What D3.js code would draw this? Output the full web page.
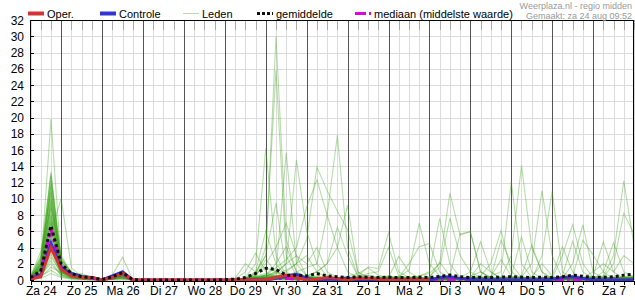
<!DOCTYPE html>
<html lang="nl">
<head>
<meta charset="utf-8">
<title>Neerslag pluim</title>
<style>
  body { margin: 0; background: #fff; }
  svg { font-family: "Liberation Sans", Arial, sans-serif; }
  .grid line { stroke: #dcdcdc; shape-rendering: crispEdges; }
  .axis path, .axis line { stroke: #000; shape-rendering: crispEdges; }
  .axis text { font-size: 12px; fill: #000; }
</style>
</head>
<body>
<svg id="chart" width="635" height="300"></svg>
<script src="https://d3js.org/d3.v7.min.js"></script>
<script>
"use strict";

// x: 6-hourly steps from za 24 06:00 (index 0) to za 7 24:00 (index 59)
var dayLabels = ["Za 24", "Zo 25", "Ma 26", "Di 27", "Wo 28", "Do 29", "Vr 30", "Za 31",
                 "Zo 1", "Ma 2", "Di 3", "Wo 4", "Do 5", "Vr 6", "Za 7"];
var yTicks = [0, 2, 4, 6, 8, 10, 12, 14, 16, 18, 20, 22, 24, 26, 28, 30, 32];

var oper = [0.1, 0.4, 4.0, 1.3, 0.5, 0.3, 0.3, 0, 0.3, 0.8, 0,
  0, 0, 0, 0, 0, 0, 0, 0, 0,
  0, 0, 0, 0, 0.3, 0.6, 0.3, 0, 0.1, 0.3,
  0.2, 0, 0.2, 0.2, 0.1, 0, 0, 0, 0, 0];

var controle = [0.2, 0.6, 4.5, 1.5, 0.8, 0.4, 0.3, 0, 0.5, 1.0, 0,
  0, 0, 0, 0, 0, 0, 0, 0, 0,
  0, 0, 0, 0, 0.2, 0.5, 0.7, 0.2, 0, 0.1,
  0.1, 0.2, 0, 0, 0, 0, 0, 0, 0, 0,
  0.3, 0.4, 0.2, 0.1, 0, 0, 0, 0, 0, 0,
  0, 0.1, 0.3, 0.4, 0.2, 0, 0, 0, 0, 0];

var gemiddelde = [0.3, 1.1, 6.7, 2.0, 0.8, 0.4, 0.3, 0.05, 0.4, 0.9, 0.05,
  0, 0, 0, 0, 0, 0, 0, 0, 0.05,
  0.1, 0.3, 0.8, 1.45, 1.3, 0.6, 0.6, 0.5, 0.8, 0.5,
  0.4, 0.3, 0.4, 0.35, 0.3, 0.35, 0.3, 0.3, 0.35, 0.3,
  0.45, 0.6, 0.4, 0.3, 0.35, 0.3, 0.35, 0.4, 0.35, 0.3,
  0.35, 0.3, 0.4, 0.6, 0.45, 0.3, 0.35, 0.4, 0.6, 0.7];

var mediaan = [0.2, 0.9, 6.2, 1.6, 0.6, 0.3, 0.2, 0, 0.3, 0.7, 0,
  0, 0, 0, 0, 0, 0, 0, 0, 0,
  0, 0, 0, 0.1, 0.2, 0.2, 0.1, 0, 0, 0.1,
  0.1, 0, 0, 0, 0, 0, 0, 0, 0, 0,
  0, 0, 0, 0, 0, 0, 0, 0, 0, 0,
  0, 0, 0, 0, 0, 0, 0, 0, 0, 0];

var leden = [
  [0.3, 1.5, 19.8, 2.0, 0.6, 0.3, 0.2, 0, 0.3, 0.9, 0, 0, 0, 0, 0, 0, 0, 0, 0, 0,
   0, 0.2, 1, 3, 30, 5, 1, 0.3, 0.2, 0, 0, 0.1, 0.3, 0.2, 0, 0, 0.1, 0, 0, 0.2,
   0.3, 0.2, 0, 0, 0.1, 0, 0.2, 3, 14.1, 4, 1, 0.2, 0, 0.1, 0, 0, 0.2, 0.3, 0.1, 0.2],
  [0.2, 2.5, 13.3, 1.8, 0.8, 0.4, 0.2, 0, 0.4, 1.0, 0, 0, 0, 0, 0, 0, 0, 0, 0, 0,
   0, 0.3, 2, 16.2, 3, 0.5, 0.2, 0, 0.3, 0.1, 0, 0, 0.2, 0.4, 0.1, 0, 0, 0.3, 0, 0,
   0.1, 0.4, 0.2, 0, 0, 0.3, 0, 0, 0.5, 4.3, 1, 0, 0.1, 0.3, 0.2, 0, 0, 0.1, 0.4, 0.3],
  [0.4, 3.0, 13.0, 2.5, 1.0, 0.5, 0.3, 0, 0.5, 1.2, 0, 0, 0, 0, 0, 0, 0, 0, 0, 0,
   0, 0.1, 0.5, 4, 25.8, 3, 0.5, 0.2, 0, 0.2, 0.3, 0.1, 0, 0, 0.2, 0.4, 0.1, 0, 0, 0.1,
   0, 0.2, 0.3, 0.1, 0, 0, 0.2, 0.1, 0.4, 2, 11, 3, 0.2, 0, 0, 0.3, 0.1, 0, 0.2, 0.5],
  [0.2, 1.8, 12.2, 3.0, 0.9, 0.6, 0.2, 0, 0.3, 0.7, 0, 0, 0, 0, 0, 0, 0, 0, 0, 0,
   0, 0, 0.2, 0.5, 1, 15.7, 2, 0.5, 0.2, 0, 0, 0.2, 0.5, 0.3, 0, 0, 0.2, 0.1, 0, 0,
   0.2, 0.1, 0, 0.3, 0.2, 0, 0, 0.3, 0.1, 0, 3, 10.9, 1, 0.2, 0, 0.1, 0, 0.3, 0.2, 0.1],
  [0.3, 2.2, 11.5, 1.5, 0.5, 0.3, 0.1, 0, 0.4, 0.8, 0, 0, 0, 0, 0, 0, 0, 0, 0, 0,
   0, 0.1, 0.3, 0.5, 0.8, 2, 14.8, 6, 2, 0.5, 0.2, 0, 0, 0.1, 0.3, 0.2, 0, 0, 0.2, 0.1,
   0, 0, 0.2, 0.4, 0.1, 0, 0.3, 0.2, 0, 0.1, 0.2, 0.5, 4.1, 1, 0.2, 0, 0.1, 0.2, 0, 0.3],
  [0.5, 2.8, 11.0, 2.2, 0.7, 0.8, 0.3, 0, 0.6, 2.8, 0, 0, 0, 0, 0, 0, 0, 0, 0, 0,
   0, 0, 0.1, 0.3, 0.5, 1, 2, 5, 13.9, 11, 8.5, 6.2, 1, 0.2, 0, 0.1, 0.3, 0, 0, 0.2,
   0.1, 0, 0, 0.2, 0.3, 0.1, 0, 0, 0.2, 0.3, 0, 0.2, 3, 6.8, 2, 0.3, 0, 0.1, 0.3, 0.2],
  [0.2, 1.2, 10.4, 1.6, 0.6, 0.4, 0.2, 0, 0.2, 0.6, 0, 0, 0, 0, 0, 0, 0, 0, 0, 0,
   0, 0.2, 0.4, 0.6, 1.5, 2.5, 4, 9, 12.3, 8, 4, 1, 0.3, 0.1, 0, 0.2, 0, 0.1, 0.3, 0,
   0, 0.2, 0.1, 0, 0, 0.2, 0.4, 0.1, 0, 0, 0.1, 0, 0.2, 2, 6.8, 1, 0.2, 0, 0.1, 0.2],
  [0.3, 2.0, 9.8, 1.2, 0.5, 0.3, 0.2, 0, 0.3, 0.9, 0, 0, 0, 0, 0, 0, 0, 0, 0, 0,
   0, 0, 0.2, 0.4, 0.3, 0.5, 1, 1.5, 2, 8, 17.8, 4, 0.5, 0.2, 0.1, 0, 0, 0.2, 0.1, 0,
   0.3, 0.2, 0, 0, 0.1, 0.3, 0, 0.2, 0.1, 0, 0, 0.2, 0.1, 0.4, 4.9, 3.1, 1, 0.2, 0, 0.1],
  [0.1, 1.0, 9.2, 2.8, 0.8, 0.5, 0.3, 0, 0.5, 1.1, 0, 0, 0, 0, 0, 0, 0, 0, 0, 0,
   0, 0.1, 0.2, 0.2, 0.4, 0.6, 0.3, 0.5, 1, 2, 4, 9.2, 1, 0.3, 0.2, 0, 0.1, 0, 0.2, 0.3,
   0.1, 0, 0.2, 0.1, 0, 0, 0.2, 0.3, 0, 0.1, 0.2, 0, 0.1, 0, 0.3, 0.5, 4.7, 1, 0.2, 0.3],
  [0.4, 1.6, 8.7, 1.4, 0.4, 0.2, 0.1, 0, 0.2, 0.5, 0, 0, 0, 0, 0, 0, 0, 0, 0, 0,
   0, 0.2, 0.8, 3, 9.5, 1, 0.3, 0.2, 0, 0.1, 0.2, 0.4, 0.1, 0, 0.3, 0.5, 0.2, 0, 0, 0.1,
   0.2, 0.3, 0, 0, 0.2, 0.1, 0, 0, 0.3, 0.2, 0, 0.1, 0.3, 0.2, 0, 0.2, 1, 4.6, 1, 0.4],
  [0.2, 2.4, 8.2, 1.9, 0.7, 0.5, 0.2, 0, 0.4, 0.7, 0, 0, 0, 0, 0, 0, 0, 0, 0, 0,
   0.1, 1, 3.3, 1, 0.3, 0.2, 0, 0.1, 0.3, 0.2, 0, 0.1, 0.2, 0.6, 0.3, 0.1, 0, 0.2, 0.3, 0,
   0, 0.1, 0.3, 0.2, 0, 0, 0.1, 0.2, 0.4, 0.1, 0, 0.2, 0.1, 0, 0.2, 0.3, 0.5, 3, 12.2, 4.3],
  [0.3, 1.3, 7.8, 1.1, 0.5, 0.3, 0.2, 0, 0.3, 0.8, 0, 0, 0, 0, 0, 0, 0, 0, 0, 0,
   0, 0.1, 0.3, 0.6, 2, 4.1, 1, 0.3, 0.1, 0, 0.1, 0.3, 0.2, 0, 0.1, 0.3, 0.2, 0.1, 0, 0.2,
   0.3, 0, 0.1, 0.2, 0.3, 0, 0, 0.1, 0.2, 0.3, 0.1, 0, 0.2, 0.3, 0.1, 0, 0.3, 2, 8.2, 5.7],
  [0.2, 0.9, 7.3, 1.3, 0.4, 0.2, 0.1, 0, 0.2, 0.6, 0, 0, 0, 0, 0, 0, 0, 0, 0, 0,
   0.2, 2, 1, 6, 2, 0.5, 0.2, 0, 0.2, 0.1, 0, 0.2, 0.3, 0.1, 0, 0.2, 0.4, 0.2, 0, 0,
   0.1, 0.2, 0, 0.1, 0.4, 0.2, 0, 0.1, 0, 0.2, 0.3, 0.1, 0, 0.2, 0.3, 1, 2, 1, 3, 2],
  [0.3, 1.9, 6.9, 2.4, 0.9, 0.6, 0.3, 0, 0.4, 1.0, 0, 0, 0, 0, 0, 0, 0, 0, 0, 0,
   0, 0.3, 0.6, 2, 4, 7, 3, 0.5, 0.2, 0, 0.1, 0, 0.2, 0.3, 0.1, 0, 0.2, 0.3, 0.1, 0,
   0, 0.2, 0.3, 0, 0.1, 0.2, 0.3, 0.5, 5.3, 1, 0.2, 0.1, 0, 0.2, 0.1, 0, 0.2, 0.3, 0, 0.2],
  [0.4, 1.1, 6.5, 1.0, 0.4, 0.3, 0.2, 0, 0.3, 0.5, 0, 0, 0, 0, 0, 0, 0, 0, 0, 0,
   0, 0.2, 0.8, 1.5, 1, 0.5, 0.3, 0.2, 0.1, 0, 0.2, 0.1, 0, 0.2, 0.4, 0.3, 2.9, 1, 0.2, 0,
   0.1, 0, 0.2, 0.3, 0.1, 0, 0.1, 0.2, 0.3, 0.1, 0, 0.3, 0.2, 0, 0.1, 0.2, 0, 0.3, 0.2, 0.1],
  [0.2, 1.4, 6.0, 1.7, 0.6, 0.4, 0.2, 0, 0.2, 0.9, 0, 0, 0, 0, 0, 0, 0, 0, 0, 0,
   0, 0.1, 0.3, 0.5, 1, 2, 3, 2, 4, 1, 0.3, 0.2, 0.1, 0, 0.2, 0.1, 0, 0.2, 0.3, 0.1,
   0, 0.3, 0.1, 0, 0.2, 0.1, 0, 0, 0.2, 0.3, 0.1, 0.2, 0.5, 4.8, 1, 0.2, 0.1, 0, 0.2, 0.3],
  [0.3, 0.7, 5.6, 1.2, 0.5, 0.3, 0.1, 0, 0.3, 0.4, 0, 0, 0, 0, 0, 0, 0, 0, 0, 0,
   0, 0, 0.2, 0.3, 0.5, 0.4, 0.3, 0.5, 1, 2, 6.5, 3, 0.5, 0.2, 0, 0.1, 0.3, 0.2, 0, 0.1,
   0.2, 0.1, 0, 0.3, 2, 1, 0.2, 0, 0.1, 0.2, 0, 0.1, 0.3, 0.2, 0, 0.1, 0.2, 0.4, 0.3, 0],
  [0.2, 1.7, 5.2, 0.9, 0.4, 0.2, 0.1, 0, 0.2, 0.6, 0, 0, 0, 0, 0, 0, 0, 0, 0, 0,
   0, 0.1, 0.2, 0.4, 0.6, 0.3, 0.2, 0.4, 0.2, 0.1, 0.2, 0.3, 0.5, 1.6, 1.4, 5.8, 1, 0.3, 0.1, 0,
   0.1, 0.2, 0, 0.1, 0.3, 0.2, 0.1, 0, 0.3, 0.4, 2, 0.5, 0.1, 0, 0.2, 0.3, 0.1, 0, 0.2, 0.4],
  [0.3, 0.8, 4.8, 1.4, 0.7, 0.5, 0.2, 0, 0.3, 0.7, 0, 0, 0, 0, 0, 0, 0, 0, 0, 0,
   0, 0.2, 0.5, 0.8, 0.4, 0.2, 0.1, 0.3, 0.5, 0.2, 0.1, 0.2, 0.4, 0.8, 1, 4, 0.5, 0.2, 0, 0.2,
   0.3, 0.1, 0, 0.2, 0.1, 0, 0.3, 0.2, 0, 0.1, 0.2, 0, 0.1, 0.3, 0.2, 0, 0.2, 0.1, 0.3, 0.5],
  [0.1, 0.6, 4.4, 1.0, 0.3, 0.2, 0.1, 0, 0.1, 0.3, 0, 0, 0, 0, 0, 0, 0, 0, 0, 0,
   0, 0.1, 0.1, 0.3, 0.2, 0.5, 0.3, 0.1, 0, 0.2, 0.3, 0.1, 0.2, 0.5, 0.3, 0.2, 0.4, 1.2, 7, 2,
   0.5, 0.2, 0.1, 0, 0.2, 0.3, 0, 0.1, 0.2, 0, 0.1, 0.3, 0.2, 0, 0.1, 0.2, 0.3, 0, 0.1, 0.2],
  [0.4, 1.2, 4.0, 0.8, 0.3, 0.2, 0.1, 0, 0.2, 0.5, 0, 0, 0, 0, 0, 0, 0, 0, 0, 0,
   0, 0, 0.3, 0.2, 0.4, 0.3, 0.5, 0.2, 0.1, 0.3, 0.2, 0, 0.1, 0.3, 0.2, 0.5, 0.3, 2, 4.1, 4.5,
   1, 0.3, 0.2, 0.1, 0, 0.2, 0.1, 0.3, 0.2, 0.1, 0, 0.2, 0.3, 0.5, 0.2, 0.1, 0, 0.2, 0.3, 0.1],
  [0.2, 0.5, 3.6, 0.7, 0.3, 0.2, 0.1, 0, 0.1, 0.4, 0, 0, 0, 0, 0, 0, 0, 0, 0, 0,
   0, 0.1, 0.2, 0.1, 0.3, 0.2, 0.4, 0.6, 0.3, 0.1, 0, 0.2, 0.3, 0.1, 0, 0.2, 0.3, 0.4, 0.5, 1,
   7.6, 2, 0.3, 0.2, 0.1, 0, 0.2, 0.1, 0, 0.3, 0.2, 0.1, 0, 0.2, 0.3, 0.1, 0.2, 0, 0.1, 0.3],
  [0.3, 0.4, 3.2, 0.6, 0.2, 0.1, 0.1, 0, 0.1, 0.3, 0, 0, 0, 0, 0, 0, 0, 0, 0, 0,
   0, 0.2, 0.1, 0.3, 0.5, 0.3, 0.2, 0.1, 0.2, 0.4, 0.3, 0.5, 0.8, 1.5, 0.6, 0.3, 0.1, 0, 0.2, 0.1,
   0, 0.2, 0.1, 0.3, 0.2, 0.4, 2.5, 0.5, 0.2, 0.1, 0.3, 0.2, 0.1, 0, 0.2, 0.3, 0.5, 0.2, 0.1, 0],
  [0.1, 0.3, 2.8, 1.0, 0.4, 0.2, 0.1, 0, 0.2, 0.4, 0, 0, 0, 0, 0, 0, 0, 0, 0, 0,
   0, 0, 0.1, 0.2, 0.3, 0.1, 0.2, 0.3, 0.1, 0, 0.2, 0.1, 0.3, 0.2, 0.1, 0, 0.3, 0.2, 0.5, 0.8,
   2, 10.7, 5.5, 6, 1, 0.3, 0.2, 0.1, 0, 0.2, 0.1, 0.3, 0.2, 0.1, 0, 0.2, 0.1, 0.3, 0.2, 0],
  [0.2, 0.4, 2.4, 0.5, 0.2, 0.1, 0, 0, 0.1, 0.2, 0, 0, 0, 0, 0, 0, 0, 0, 0, 0,
   0, 0.1, 0.2, 0.1, 0.2, 0.3, 0.1, 0, 0.2, 0.3, 0.1, 0.2, 0, 0.1, 0.3, 0.2, 0.1, 0, 0.2, 0.5,
   1.5, 7.6, 3, 1, 0.3, 0.2, 0, 0.1, 0.3, 0.2, 0, 0.1, 0.2, 0.3, 0.1, 0, 0.2, 0.1, 0, 0.2],
  [0.3, 0.6, 2.0, 0.6, 0.3, 0.2, 0.1, 0, 0.2, 0.3, 0, 0, 0, 0, 0, 0, 0, 0, 0, 0,
   0, 0.1, 0, 0.2, 0.1, 0.3, 0.2, 0.1, 0, 0.1, 0.2, 0.1, 0.2, 0.3, 0.1, 0.2, 0, 0.3, 0.2, 0.1,
   0.3, 0.5, 5.7, 5.9, 1, 0.2, 0.1, 0, 0.2, 0.3, 0.1, 0, 0.2, 0.4, 0.2, 0.1, 0, 0.2, 0.3, 0.1],
  [0.1, 0.3, 1.6, 0.9, 0.5, 0.3, 0.1, 0, 0.1, 0.2, 0, 0, 0, 0, 0, 0, 0, 0, 0, 0,
   0, 0, 0.1, 0.1, 0.2, 0.1, 0, 0.2, 0.3, 0.1, 0, 0.1, 0.3, 0.2, 0, 0.1, 0.2, 0.1, 0, 0.2,
   0.1, 0.2, 0.3, 1, 4.7, 1, 0.2, 0.1, 0, 0.1, 0.2, 0.3, 0.1, 0, 0.2, 0.4, 0.3, 0.1, 0, 0.2],
  [0.2, 0.5, 1.2, 0.4, 0.2, 0.1, 0.1, 0, 0.1, 0.2, 0, 0, 0, 0, 0, 0, 0, 0, 0, 0,
   0, 0.1, 0.2, 0.3, 0.1, 0, 0.1, 0.2, 0.1, 0.3, 0.1, 0, 0.1, 0.2, 0.3, 0.1, 0, 0.1, 0.3, 0.2,
   0, 0.1, 0.2, 0.3, 0.5, 2, 6.1, 1, 0.2, 0.1, 0, 0.2, 0.3, 0.1, 0, 0.1, 0.2, 0.3, 0.1, 0.2],
  [0.3, 1.5, 6.0, 10.0, 1.5, 0.4, 0.2, 0, 0.3, 0.6, 0, 0, 0, 0, 0, 0, 0, 0, 0, 0,
   0, 0.2, 0.3, 0.2, 0.5, 0.3, 0.2, 0.1, 0, 0.2, 0.3, 0.1, 0, 0.2, 0.1, 0.3, 0.2, 0, 0.1, 0.2,
   0.3, 0.1, 0.2, 0.5, 1, 0.3, 4.9, 2, 0.3, 0.1, 0.2, 0.1, 0, 0.3, 0.2, 0.1, 0.3, 0.2, 0.4, 0.2],
  [0.1, 0.2, 0.8, 0.3, 0.1, 0.1, 0, 0, 0.1, 0.1, 0, 0, 0, 0, 0, 0, 0, 0, 0, 0,
   0, 0, 0.1, 0.2, 0.1, 0.2, 0.1, 0, 0.1, 0.2, 0.1, 0.2, 0.1, 0, 0.2, 0.1, 0.3, 0.2, 0, 0.1,
   0.2, 0, 0.1, 0.2, 0.3, 0.5, 1, 12.1, 2, 0.3, 0.1, 0.2, 0, 0.1, 0.3, 0.2, 0.1, 0, 0.2, 0.3],
  [0.3, 2.0, 12.8, 1.5, 0.5, 0.3, 0.2, 0, 0.3, 0.7, 0, 0, 0, 0, 0, 0, 0, 0, 0, 0,
   0, 0.1, 0.5, 2.5, 1, 0.3, 0.1, 0, 0.2, 0.1, 0, 0.2, 0.1, 0, 0.3, 0.2, 0, 0.1, 0, 0.2,
   0.1, 0.3, 0.2, 0, 0.1, 0.2, 0, 0.3, 0.1, 0, 0.2, 0.1, 0, 0.3, 0.2, 0.1, 0, 0.2, 0.4, 0.1],
  [0.2, 1.4, 11.8, 2.2, 0.6, 0.4, 0.2, 0, 0.2, 0.5, 0, 0, 0, 0, 0, 0, 0, 0, 0, 0,
   0, 0, 0.2, 0.4, 0.8, 1.2, 2, 3, 1, 0.3, 0.1, 0, 0.2, 0.1, 0, 0.2, 0.1, 0.3, 0, 0.1,
   0.2, 0, 0.1, 0.3, 0.2, 0, 0.1, 0.2, 0.3, 0.1, 0, 0.2, 0.3, 0.1, 0, 0.2, 0.1, 0, 0.3, 0.2],
  [0.4, 2.6, 10.8, 1.3, 0.4, 0.3, 0.1, 0, 0.4, 0.9, 0, 0, 0, 0, 0, 0, 0, 0, 0, 0,
   0, 0.2, 0.3, 0.1, 0.2, 0.4, 0.2, 0.1, 0, 0.2, 0.3, 0.1, 0, 0.2, 0.1, 0.3, 0.2, 0, 0.1, 0.3,
   2.2, 0.5, 0.1, 0, 0.2, 0.1, 0.3, 0.2, 0, 0.1, 0.3, 0.1, 0, 0.2, 0.3, 0.1, 0.2, 0, 0.1, 0.2],
  [0.3, 1.8, 10.0, 1.9, 0.7, 0.5, 0.2, 0, 0.3, 0.6, 0, 0, 0, 0, 0, 0, 0, 0, 0, 0,
   0, 0.1, 0.1, 0.3, 0.5, 0.2, 0.1, 0.2, 0.4, 0.3, 0.1, 0, 0.2, 0.3, 0.1, 0, 0.2, 0.1, 0.3, 0.2,
   0, 0.1, 0.2, 0, 0.3, 0.1, 0.2, 0.4, 0.2, 0.1, 0, 0.3, 0.1, 0.2, 0, 0.1, 0.2, 0.3, 0.1, 0],
  [0.2, 1.1, 9.5, 1.1, 0.5, 0.3, 0.2, 0, 0.2, 0.8, 0, 0, 0, 0, 0, 0, 0, 0, 0, 0,
   0, 0, 0.1, 0.2, 0.1, 0.3, 0.2, 0, 0.1, 0.2, 0.1, 0.2, 0.3, 0.1, 0, 0.2, 0.1, 0.2, 0.3, 0,
   0.1, 0.2, 0, 0.1, 0.3, 0.2, 0.1, 0, 0.2, 0.3, 0.1, 0, 0.2, 0.1, 0.3, 0.2, 0.1, 0.2, 0, 0.1],
  [0.5, 3.5, 8.9, 2.6, 0.8, 0.4, 0.3, 0, 0.5, 1.0, 0, 0, 0, 0, 0, 0, 0, 0, 0, 0,
   0, 0.2, 0.4, 0.6, 0.3, 0.2, 0.1, 0.3, 0.2, 0, 0.1, 0.2, 0, 0.1, 0.2, 0.3, 0.1, 0, 0.2, 0.1,
   0, 0.1, 0.3, 0.2, 0.1, 0, 0.2, 0.1, 0.3, 0.2, 0.1, 0.2, 0, 0.3, 0.1, 0.2, 0.1, 0, 0.2, 0.3],
  [0.3, 1.6, 8.0, 1.4, 0.5, 0.2, 0.1, 0, 0.3, 0.6, 0, 0, 0, 0, 0, 0, 0, 0, 0, 0,
   0, 0.1, 0.2, 0.1, 0.3, 0.5, 0.2, 0.1, 0, 0.2, 0.1, 0.3, 0.2, 0, 0.1, 0.2, 0.3, 0.1, 0, 0.2,
   0.1, 0, 0.2, 0.3, 0.1, 0.2, 0, 0.1, 0.2, 0.3, 0.2, 0, 0.1, 0.2, 0.3, 0.1, 0, 0.2, 0.1, 0.3],
  [0.2, 0.9, 7.5, 1.7, 0.6, 0.4, 0.2, 0, 0.2, 0.4, 0, 0, 0, 0, 0, 0, 0, 0, 0, 0,
   0, 0, 0.2, 0.3, 0.1, 0.2, 0.4, 0.2, 0.1, 0, 0.2, 0.1, 0.3, 0.2, 0, 0.1, 0.2, 0, 0.3, 0.1,
   0.2, 0.3, 0.1, 0, 0.2, 0.1, 0.3, 0.2, 0, 0.1, 0.2, 0.3, 0.1, 0, 0.2, 0.1, 0.3, 0.2, 0, 0.1],
  [0.4, 2.1, 7.0, 1.2, 0.4, 0.3, 0.2, 0, 0.3, 0.7, 0, 0, 0, 0, 0, 0, 0, 0, 0, 0,
   0, 0.1, 0.3, 0.2, 0.1, 0.3, 0.2, 0.1, 0.2, 0.3, 0.1, 0, 0.2, 0.1, 0.3, 0.2, 0.1, 0.2, 0, 0.1,
   0.3, 0.2, 0, 0.1, 0.2, 0.3, 0.1, 0, 0.2, 0.1, 0.3, 0.2, 0.1, 0, 0.2, 0.3, 0.1, 0.2, 0, 0.2],
  [0.1, 0.7, 6.3, 0.9, 0.3, 0.2, 0.1, 0, 0.1, 0.5, 0, 0, 0, 0, 0, 0, 0, 0, 0, 0,
   0, 0, 0.1, 0.3, 0.2, 0.1, 0, 0.2, 0.3, 0.1, 0.2, 0.1, 0, 0.2, 0.1, 0.3, 0.2, 0, 0.1, 0.2,
   0.1, 0.3, 0.2, 0.1, 0, 0.2, 0.1, 0.3, 0.2, 0, 0.1, 0.2, 0.1, 0.3, 0.2, 0, 0.1, 0.2, 0.3, 0.1],
  [0.3, 1.3, 5.4, 2.0, 0.8, 0.5, 0.3, 0, 0.4, 0.9, 0, 0, 0, 0, 0, 0, 0, 0, 0, 0,
   0, 0.2, 0.1, 0.2, 0.4, 0.2, 0.3, 0.1, 0, 0.2, 0.1, 0.3, 0.2, 0.1, 0, 0.2, 0.1, 0.3, 0.2, 0.1,
   0, 0.2, 0.1, 0.3, 0.2, 0, 0.1, 0.2, 0.3, 0.1, 0.2, 0, 0.3, 0.2, 0.1, 0.2, 0, 0.1, 0.3, 0.2],
  [0.2, 0.8, 4.6, 1.1, 0.4, 0.2, 0.1, 0, 0.2, 0.3, 0, 0, 0, 0, 0, 0, 0, 0, 0, 0,
   0, 0.1, 0.2, 0.1, 0.3, 0.2, 0.1, 0, 0.2, 0.1, 0.3, 0.2, 0.1, 0.2, 0, 0.1, 0.3, 0.2, 0.1, 0,
   0.2, 0.1, 0.3, 0.2, 0, 0.1, 0.2, 0.1, 0, 0.3, 0.1, 0.2, 0.2, 0.1, 0.3, 0, 0.2, 0.1, 0.2, 0.3]
];

var svg = d3.select("#chart");
var pLeft = 30.5, pRight = 634, pTop = 20, pBottom = 280;

var x = d3.scaleLinear().domain([0, 59]).range([pLeft, pRight]);
var y = d3.scaleLinear().domain([0, 32]).range([pBottom, pTop]);

svg.append("defs").append("clipPath").attr("id", "plot")
  .append("rect").attr("x", pLeft).attr("y", pTop - 2)
  .attr("width", pRight - pLeft).attr("height", pBottom - pTop + 4);

// grid
var grid = svg.append("g").attr("class", "grid");
grid.selectAll("line.h").data(yTicks).enter().append("line")
  .attr("x1", pLeft).attr("x2", pRight)
  .attr("y1", function(d) { return Math.round(y(d)) + 0.5; })
  .attr("y2", function(d) { return Math.round(y(d)) + 0.5; });
grid.selectAll("line.v").data(d3.range(0, 60)).enter().append("line")
  .attr("y1", pTop).attr("y2", pBottom)
  .attr("x1", function(d) { return Math.round(x(d)) + 0.5; })
  .attr("x2", function(d) { return Math.round(x(d)) + 0.5; });

// top ticks
svg.append("g").selectAll("line").data(d3.range(1, 60)).enter().append("line")
  .attr("y1", pTop).attr("y2", pTop + 10)
  .attr("x1", function(d) { return Math.round(x(d)) + 0.5; })
  .attr("x2", function(d) { return Math.round(x(d)) + 0.5; })
  .attr("stroke", "#aaa").attr("shape-rendering", "crispEdges");

// day separators
svg.append("g").selectAll("line").data(d3.range(0, 14)).enter().append("line")
  .attr("y1", pTop).attr("y2", pBottom)
  .attr("x1", function(d) { return Math.round(x(3 + 4 * d)) + 0.5; })
  .attr("x2", function(d) { return Math.round(x(3 + 4 * d)) + 0.5; })
  .attr("stroke", "#555").attr("shape-rendering", "crispEdges");

var line = d3.line()
  .x(function(d, i) { return x(i); })
  .y(function(d) { return y(d); });

var plot = svg.append("g").attr("clip-path", "url(#plot)");

plot.selectAll("path.lid").data(leden).enter().append("path")
  .attr("class", "lid")
  .attr("d", line)
  .attr("fill", "none")
  .attr("stroke", "rgb(55,160,20)")
  .attr("stroke-opacity", 0.36)
  .attr("stroke-width", 1.1);

plot.append("path").datum(mediaan).attr("d", line)
  .attr("fill", "none").attr("stroke", "#e000e0").attr("stroke-width", 3)
  .attr("stroke-dasharray", "9,3,3,3");
plot.append("path").datum(controle).attr("d", line)
  .attr("fill", "none").attr("stroke", "#3434d0").attr("stroke-width", 3);
plot.append("path").datum(oper).attr("d", line)
  .attr("fill", "none").attr("stroke", "#d43434").attr("stroke-width", 3);
plot.append("path").datum(gemiddelde).attr("d", line)
  .attr("fill", "none").attr("stroke", "#111").attr("stroke-width", 3)
  .attr("stroke-dasharray", "3,3");

// frame
svg.append("line").attr("x1", pLeft - 0.5).attr("x2", pRight).attr("y1", pTop + 0.5).attr("y2", pTop + 0.5)
  .attr("stroke", "#000").attr("shape-rendering", "crispEdges");
svg.append("line").attr("x1", pRight - 0.5).attr("x2", pRight - 0.5).attr("y1", pTop).attr("y2", pBottom)
  .attr("stroke", "#000").attr("shape-rendering", "crispEdges");

// axes
var yAxis = svg.append("g").attr("class", "axis")
  .attr("transform", "translate(" + (pLeft - 0.5) + ",0)")
  .call(d3.axisLeft(y).tickValues(yTicks).tickSize(-4).tickPadding(6).tickSizeOuter(0));
yAxis.selectAll("text").attr("dy", "0.35em");

svg.append("g").attr("class", "axis")
  .attr("transform", "translate(0," + (pBottom + 0.5) + ")")
  .call(d3.axisBottom(x).tickValues(d3.range(0, 60)).tickSize(4).tickFormat("").tickSizeOuter(0));

svg.append("g").attr("class", "axis")
  .attr("transform", "translate(0," + (pBottom + 0.5) + ")")
  .call(d3.axisBottom(x).tickValues(d3.range(0, 15).map(function(k) { return 1 + 4 * k; }))
    .tickSize(0).tickPadding(6)
    .tickFormat(function(d) { return dayLabels[(d - 1) / 4]; }))
  .select(".domain").remove();

// legend
var legend = [
  { name: "Oper.", x: 28, color: "#d43434", width: 4, dash: null },
  { name: "Controle", x: 100, color: "#3434d0", width: 4, dash: null },
  { name: "Leden", x: 183, color: "#b8dcb0", width: 1, dash: null },
  { name: "gemiddelde", x: 257, color: "#111", width: 3, dash: "3,2" },
  { name: "mediaan (middelste waarde)", x: 355, color: "#e000e0", width: 3, dash: "11,3,2,10" }
];
var lg = svg.append("g").selectAll("g").data(legend).enter().append("g");
lg.append("line")
  .attr("x1", function(d) { return d.x; })
  .attr("x2", function(d) { return d.x + 16; })
  .attr("y1", 13.5).attr("y2", 13.5)
  .attr("stroke", function(d) { return d.color; })
  .attr("stroke-width", function(d) { return d.width; })
  .attr("stroke-dasharray", function(d) { return d.dash; });
lg.append("text")
  .attr("x", function(d) { return d.x + 19; })
  .attr("y", 17.5)
  .attr("font-size", "11px")
  .text(function(d) { return d.name; });

svg.append("text").attr("x", 632).attr("y", 8.5).attr("text-anchor", "end")
  .attr("font-size", "9px").attr("fill", "#999")
  .text("Weerplaza.nl - regio midden");
svg.append("text").attr("x", 632).attr("y", 18.5).attr("text-anchor", "end")
  .attr("font-size", "9px").attr("fill", "#999")
  .text("Gemaakt: za 24 aug 09:52");
</script>
</body>
</html>
